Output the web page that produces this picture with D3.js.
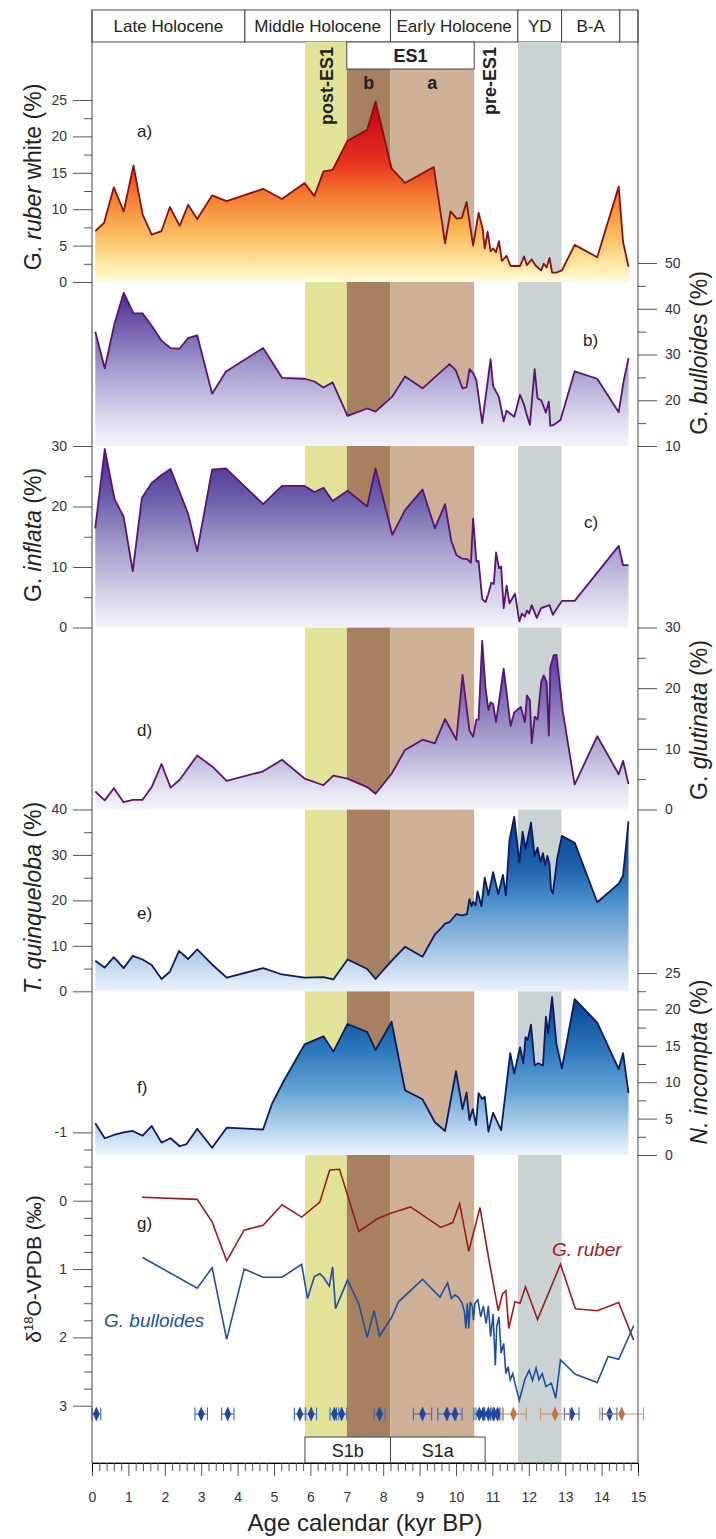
<!DOCTYPE html>
<html>
<head>
<meta charset="utf-8">
<title>ES1 foraminifera records</title>
<script src="https://cdn.jsdelivr.net/npm/d3@7/dist/d3.min.js"></script>
<style>
body { margin: 0; background: #fff; }
text { font-family: "Liberation Sans", Arial, sans-serif; fill: #222; }
.tick text { font-size: 14px; fill: #333; }
.tick line { stroke: #555; }
</style>
</head>
<body>
<svg id="mainsvg" width="716" height="1539"></svg>
<script>
// ---- data ----
// a) G. ruber white (%)
const rubWhiteAge = [0.09,0.33,0.6,0.87,1.14,1.39,1.64,1.91,2.14,2.41,2.64,2.89,3.3,3.7,4.7,5.22,5.84,6.11,6.36,6.61,7.02,7.56,7.79,8.23,8.6,9.39,9.7,9.85,10.02,10.16,10.29,10.47,10.62,10.73,10.79,10.87,10.95,11.02,11.1,11.18,11.26,11.39,11.5,11.76,11.87,11.95,12.08,12.2,12.34,12.41,12.49,12.57,12.64,12.76,12.91,13.26,13.88,14.47,14.59,14.74];
const rubWhitePct = [7.0,8.1,13.0,9.7,16.0,9.3,6.5,7.0,10.3,7.7,10.6,8.65,11.9,11.1,12.8,11.4,13.6,11.8,15.2,15.4,19.4,20.9,24.8,15.6,13.6,15.8,5.3,9.7,8.7,8.8,11.0,5.0,9.5,7.4,4.6,6.9,4.2,4.6,4.1,5.6,2.9,3.6,2.2,2.2,3.5,2.3,3.1,2.2,1.6,2.5,2.0,3.3,1.3,1.3,1.6,5.1,3.4,13.1,5.5,2.1];
// b) G. bulloides (%)
const bullAge = [0.09,0.35,0.62,0.87,1.14,1.39,1.64,1.91,2.16,2.41,2.64,2.89,3.3,3.68,4.7,5.22,5.84,6.11,6.36,6.61,7.02,7.56,7.79,8.25,8.6,9.08,9.82,9.99,10.18,10.29,10.37,10.47,10.56,10.72,10.95,11.02,11.18,11.31,11.39,11.6,11.76,11.87,11.93,12.03,12.16,12.24,12.34,12.47,12.55,12.59,12.68,12.87,13.26,13.88,14.47,14.61,14.74];
const bullPct = [35.0,27.0,36.8,43.5,39.0,39.0,36.3,33.0,31.4,31.3,33.6,34.2,21.4,26.3,31.4,24.9,24.7,24.1,22.8,23.9,16.6,18.2,17.5,20.8,25.2,22.6,27.9,26.6,22.6,22.8,26.8,25.9,24.4,15.0,29.0,23.1,20.7,15.4,17.7,16.4,21.2,19.0,17.2,14.6,26.8,20.4,20.0,17.3,19.7,14.4,14.6,15.7,26.3,24.7,17.4,24.4,29.2];
// c) G. inflata (%)
const inflAge = [0.09,0.35,0.62,0.87,1.12,1.37,1.64,1.91,2.16,2.64,2.89,3.3,3.68,4.7,5.22,5.84,6.11,6.36,6.61,7.02,7.56,7.79,8.25,8.6,9.08,9.42,9.7,9.87,10.01,10.16,10.31,10.41,10.47,10.56,10.62,10.72,10.81,10.88,10.97,11.04,11.1,11.18,11.24,11.31,11.39,11.47,11.62,11.74,11.81,11.89,11.95,12.01,12.08,12.22,12.34,12.47,12.57,12.66,12.91,13.26,14.47,14.59,14.74];
const inflPct = [16.4,29.5,21.2,18.3,9.3,21.4,23.9,25.2,26.2,18.8,12.6,26.1,26.3,20.4,23.4,23.4,22.4,23.1,20.9,22.6,20.0,26.3,15.3,19.4,22.8,16.4,20.4,14.3,12.0,11.4,11.3,10.7,18.0,10.9,11.0,4.7,4.2,5.4,7.4,7.2,12.4,9.8,10.1,3.2,6.9,4.0,5.6,1.0,2.3,1.8,2.8,2.3,3.7,1.6,3.2,3.5,3.7,2.1,4.4,4.4,13.5,10.3,10.3];
// d) G. glutinata (%)
const glutAge = [0.09,0.35,0.6,0.87,1.12,1.39,1.64,1.91,2.16,2.41,2.89,3.3,3.7,4.7,5.22,5.84,6.36,6.63,7.02,7.56,7.79,8.23,8.6,9.08,9.42,9.7,10.01,10.18,10.37,10.47,10.56,10.62,10.72,10.81,10.89,10.95,11.02,11.1,11.31,11.5,11.6,11.78,11.89,11.95,12.03,12.08,12.16,12.24,12.34,12.41,12.49,12.55,12.59,12.68,12.76,12.93,13.26,13.88,14.47,14.59,14.74];
const glutPct = [3.0,1.5,3.5,1.2,1.6,1.6,3.7,7.5,3.6,4.9,8.9,7.1,4.7,6.3,8.2,5.1,4.0,5.6,5.1,3.7,2.6,5.9,9.8,11.5,10.9,14.9,11.5,22.2,13.0,12.0,14.8,14.8,27.8,20.1,16.4,17.7,17.4,14.4,23.2,13.8,16.0,16.9,14.4,18.8,18.0,10.9,15.3,14.8,21.0,22.1,21.0,12.2,23.4,25.4,25.5,16.3,4.1,12.1,5.8,8.0,4.2];
// e) T. quinqueloba (%)
const quinAge = [0.09,0.35,0.6,0.87,1.12,1.39,1.64,1.91,2.14,2.39,2.64,2.89,3.3,3.7,4.7,5.22,5.84,6.36,6.63,7.02,7.56,7.79,8.23,8.6,9.08,9.42,9.58,9.7,9.82,10.01,10.16,10.3,10.37,10.43,10.47,10.54,10.59,10.7,10.79,10.89,11.02,11.16,11.29,11.37,11.47,11.6,11.74,11.83,11.91,12.06,12.16,12.24,12.32,12.39,12.45,12.51,12.57,12.61,12.66,12.78,12.91,13.26,13.88,14.47,14.59,14.74];
const quinPct = [6.7,5.2,7.5,5.1,7.8,7.0,5.8,2.7,4.3,8.9,7.1,9.2,5.9,3.0,5.1,3.7,3.0,3.1,2.6,7.0,4.9,2.7,6.7,9.8,7.6,12.5,13.8,14.9,15.2,17.0,16.7,17.0,20.3,18.7,19.7,18.9,22.0,18.7,25.0,21.2,26.2,21.4,25.6,21.1,33.3,38.4,28.4,35.1,31.4,37.1,29.8,31.6,28.5,30.4,27.7,29.8,28.0,22.3,21.5,29.2,34.2,32.7,19.6,23.7,25.5,37.4];
// f) N. incompta (%)
const incAge = [0.09,0.35,0.6,0.87,1.12,1.39,1.64,1.91,2.16,2.41,2.6,2.89,3.3,3.7,4.7,4.95,5.26,5.84,6.36,6.63,7.02,7.56,7.79,8.23,8.6,9.08,9.42,9.7,10.0,10.18,10.29,10.37,10.46,10.55,10.62,10.72,10.79,10.89,11.02,11.24,11.49,11.6,11.76,11.85,11.91,11.97,12.06,12.16,12.26,12.39,12.47,12.53,12.64,12.76,12.91,13.26,13.88,14.47,14.59,14.74];
const incPct = [4.35,2.3,2.75,3.1,3.3,2.65,4.0,1.7,2.3,1.2,1.5,3.6,1.0,3.75,3.5,7.1,10.1,15.2,16.3,14.2,18.0,16.9,14.4,18.3,8.9,7.65,4.5,3.3,11.5,6.3,8.6,4.8,6.3,4.1,8.5,7.7,8.0,3.2,5.8,3.4,14.0,11.2,14.8,12.6,16.2,15.8,17.9,12.3,12.6,12.3,19.0,16.7,21.7,15.2,11.9,21.4,18.2,11.8,14.0,8.5];
// g) d18O G. ruber and G. bulloides (permil VPDB)
const d18RubAge = [1.37,2.89,3.3,3.7,4.18,4.7,5.22,5.76,6.26,6.53,6.8,7.33,7.85,8.23,8.75,9.58,9.91,10.1,10.35,10.66,10.89,11.16,11.28,11.37,11.45,11.62,11.76,11.91,12.24,12.87,13.28,13.88,14.47,14.88];
const d18Rub = [-0.05,-0.02,0.31,0.88,0.43,0.36,0.06,0.24,0.02,-0.45,-0.46,0.45,0.26,0.18,0.09,0.39,0.32,0.04,0.74,0.10,0.82,1.61,1.36,1.32,1.87,1.48,1.50,1.26,1.74,0.93,1.58,1.61,1.49,2.04];
const d18BullAge = [1.39,2.89,3.3,3.7,4.18,4.7,5.22,5.76,5.92,6.11,6.26,6.36,6.52,6.61,6.69,7.02,7.33,7.56,7.75,7.9,8.23,8.42,9.08,9.56,9.77,9.87,9.97,10.06,10.16,10.23,10.27,10.31,10.35,10.39,10.45,10.48,10.52,10.6,10.68,10.75,10.83,10.89,10.95,11.02,11.08,11.12,11.18,11.24,11.31,11.37,11.43,11.49,11.56,11.62,11.74,11.89,12.01,12.1,12.2,12.28,12.37,12.47,12.62,12.74,12.87,13.28,13.88,14.18,14.47,14.88];
const d18Bull = [0.83,1.28,0.98,2.03,1.0,1.12,1.12,0.93,1.43,1.11,1.07,1.12,1.25,0.97,1.58,1.16,1.51,2.0,1.61,1.98,1.71,1.48,1.15,1.41,1.20,1.43,1.38,1.41,1.49,1.62,1.87,1.50,1.87,1.48,1.55,1.75,1.50,1.45,1.70,1.54,1.80,1.54,1.99,1.66,2.41,1.84,1.70,2.23,2.09,2.53,2.43,2.62,2.53,2.67,2.92,2.62,2.48,2.63,2.45,2.62,2.53,2.72,2.67,2.89,2.33,2.54,2.66,2.28,2.32,1.83];
// radiocarbon / tephra dates
const blueDateAge = [0.12,3.0,3.73,5.71,6.02,6.66,6.86,7.9,9.08,9.75,9.97,10.64,10.75,10.89,11.04,11.14,13.18,14.22];
const blueDateErr = [0.12,0.17,0.17,0.15,0.15,0.12,0.14,0.15,0.25,0.25,0.2,0.15,0.2,0.15,0.15,0.15,0.2,0.2];
const orangeDateAge = [11.58,12.72,14.55];
const orangeDateErr = [0.35,0.4,0.6];
// periods
const periodName = ["Late Holocene","Middle Holocene","Early Holocene","YD","B-A",""];
const periodStart = [0,4.2,8.2,11.7,12.9,14.5];
const periodEnd = [4.2,8.2,11.7,12.9,14.5,15];
// shaded intervals: post-ES1, ES1b, ES1a, YD
const bandStart = [5.85,7.0,8.2,11.7];
const bandEnd = [7.0,8.2,10.5,12.9];
const bandColor = ["#e2e398","#a7805f","#ceb097","#cad2d4"];
// sapropel sub-units
const sapName = ["S1b","S1a"];
const sapStart = [5.85,8.2];
const sapEnd = [8.2,10.8];

// ---- layout ----
const svg = d3.select("#mainsvg");
const xLeft = 92, xRight = 638;
const xScale = d3.scaleLinear().domain([0, 15]).range([xLeft, xRight]);
const frameTop = 10, headTop = 42, axisY = 1463, sapTop = 1437;

const panels = [
  {age: rubWhiteAge, val: rubWhitePct, domain: [0, 25], range: [282, 100], span: [42, 282], side: "left",
   major: [0,5,10,15,20,25], minorStep: 2.5, stroke: "#8a1010",
   grad: [[0,"#c0001a"],[0.35,"#e8331f"],[0.52,"#f37a2e"],[0.74,"#fbbd5f"],[0.92,"#feeaaa"],[1,"#fffbdc"]],
   title: [["G. ",false],["ruber",true],[" white (%)",false]], titleY: 177, label: "a)", lx: 137, ly: 137},
  {age: bullAge, val: bullPct, domain: [10, 50], range: [446, 263], span: [282, 446], side: "right",
   major: [10,20,30,40,50], minorStep: 5, stroke: "#5a1470",
   grad: [[0,"#3f2288"],[0.15,"#4a2a90"],[0.6,"#a8a1d0"],[0.85,"#dcd8ec"],[1,"#f5f4fa"]],
   title: [["G. ",false],["bulloides",true],[" (%)",false]], titleY: 353, label: "b)", lx: 583, ly: 346},
  {age: inflAge, val: inflPct, domain: [0, 30], range: [627.5, 446], span: [446, 627.5], side: "left",
   major: [0,10,20,30], minorStep: 5, stroke: "#5a1470",
   grad: [[0,"#44248c"],[0.3,"#6f62ad"],[0.52,"#9c94c7"],[0.8,"#d3cfe7"],[1,"#f3f2f9"]],
   title: [["G. ",false],["inflata",true],[" (%)",false]], titleY: 535, label: "c)", lx: 584, ly: 528},
  {age: glutAge, val: glutPct, domain: [0, 30], range: [809.5, 627.5], span: [627.5, 809.5], side: "right",
   major: [0,10,20,30], minorStep: 5, stroke: "#5a1470",
   grad: [[0,"#4a2a94"],[0.1,"#50309a"],[0.6,"#a59dcc"],[0.9,"#e6e3f2"],[1,"#f6f5fa"]],
   title: [["G. ",false],["glutinata",true],[" (%)",false]], titleY: 720, label: "d)", lx: 137, ly: 736},
  {age: quinAge, val: quinPct, domain: [0, 40], range: [991.3, 809.5], span: [809.5, 991.3], side: "left",
   major: [0,10,20,30,40], minorStep: 5, stroke: "#0e1a5e",
   grad: [[0,"#08378a"],[0.33,"#1f64ad"],[0.5,"#4a8fca"],[0.77,"#a6c6e5"],[1,"#edf3fb"]],
   title: [["T. quinqueloba",true],[" (%)",false]], titleY: 898, label: "e)", lx: 137, ly: 919},
  {age: incAge, val: incPct, domain: [0, 25], range: [1155, 973], span: [991.3, 1155], side: "right",
   major: [0,5,10,15,20,25], minorStep: 2.5, stroke: "#0e1a5e",
   grad: [[0,"#08398a"],[0.13,"#0a3f8e"],[0.42,"#2c78bc"],[0.64,"#62a1d4"],[0.86,"#b8d4ed"],[1,"#eef4fb"]],
   title: [["N. incompta",true],[" (%)",false]], titleY: 1062, label: "f)", lx: 137, ly: 1093}
];

const defs = svg.append("defs");

// header with climate periods
const head = svg.append("g").attr("id", "header");
head.selectAll("rect").data(periodName).enter().append("rect")
  .attr("x", (d, i) => xScale(periodStart[i]))
  .attr("y", frameTop)
  .attr("width", (d, i) => xScale(periodEnd[i]) - xScale(periodStart[i]))
  .attr("height", headTop - frameTop)
  .attr("fill", "#fff").attr("stroke", "#444").attr("stroke-width", 1);
head.selectAll("text").data(periodName).enter().append("text")
  .attr("x", (d, i) => (xScale(periodStart[i]) + xScale(periodEnd[i])) / 2)
  .attr("y", 32)
  .attr("text-anchor", "middle")
  .attr("font-size", "17px")
  .text(d => d);

// shaded bands for every panel
const bandG = svg.append("g").attr("id", "bands");
panels.forEach((p, k) => {
  bandG.append("g").selectAll("rect").data(bandStart).enter().append("rect")
    .attr("x", (d, i) => xScale(d))
    .attr("width", (d, i) => xScale(bandEnd[i]) - xScale(d))
    .attr("y", (d, i) => (k === 0 && (i === 1 || i === 2)) ? 69 : p.span[0])
    .attr("height", (d, i) => p.span[1] - ((k === 0 && (i === 1 || i === 2)) ? 69 : p.span[0]))
    .attr("fill", (d, i) => bandColor[i]);
});
// bands in the isotope panel
bandG.append("g").selectAll("rect").data(bandStart).enter().append("rect")
  .attr("x", d => xScale(d))
  .attr("width", (d, i) => xScale(bandEnd[i]) - xScale(d))
  .attr("y", 1155)
  .attr("height", (d, i) => (i === 3 ? axisY : sapTop) - 1155)
  .attr("fill", (d, i) => bandColor[i]);

// ES1 box and band labels
svg.append("rect").attr("x", xScale(7.0)).attr("y", headTop)
  .attr("width", xScale(10.5) - xScale(7.0)).attr("height", 27)
  .attr("fill", "#fff").attr("stroke", "#444");
svg.append("text").attr("x", (xScale(7.0) + xScale(10.5)) / 2).attr("y", 62)
  .attr("text-anchor", "middle").attr("font-size", "18px").attr("font-weight", "bold").text("ES1");
svg.append("text").attr("x", (xScale(7.0) + xScale(8.2)) / 2).attr("y", 89)
  .attr("text-anchor", "middle").attr("font-size", "18px").attr("font-weight", "bold").text("b");
svg.append("text").attr("x", (xScale(8.2) + xScale(10.5)) / 2).attr("y", 89)
  .attr("text-anchor", "middle").attr("font-size", "18px").attr("font-weight", "bold").text("a");
svg.append("text").attr("transform", `translate(${(xScale(5.85) + xScale(7.0)) / 2 + 7},47) rotate(-90)`)
  .attr("text-anchor", "end").attr("font-size", "18px").attr("font-weight", "bold").text("post-ES1");
svg.append("text").attr("transform", `translate(${xScale(10.9) + 7},47) rotate(-90)`)
  .attr("text-anchor", "end").attr("font-size", "18px").attr("font-weight", "bold").text("pre-ES1");

// area panels
panels.forEach((p, k) => {
  const y = d3.scaleLinear().domain(p.domain).range(p.range);
  const pts = p.age.map((a, i) => [a, p.val[i]]);
  const gid = "grad" + k;
  const lg = defs.append("linearGradient").attr("id", gid)
    .attr("gradientUnits", "userSpaceOnUse")
    .attr("x1", 0).attr("x2", 0).attr("y1", p.range[1]).attr("y2", p.range[0]);
  p.grad.forEach(s => lg.append("stop").attr("offset", s[0]).attr("stop-color", s[1]));

  const g = svg.append("g").attr("class", "panel");
  g.append("path").datum(pts)
    .attr("d", d3.area().x(d => xScale(d[0])).y0(y(p.domain[0])).y1(d => y(d[1])))
    .attr("fill", `url(#${gid})`);
  g.append("path").datum(pts)
    .attr("d", d3.line().x(d => xScale(d[0])).y(d => y(d[1])))
    .attr("fill", "none").attr("stroke", p.stroke).attr("stroke-width", 1.8)
    .attr("stroke-linejoin", "round");

  // axis
  const left = p.side === "left";
  const axMaj = (left ? d3.axisLeft(y) : d3.axisRight(y)).tickValues(p.major)
    .tickSize(19).tickPadding(left ? 6 : 8).tickFormat(d => String(d));
  const minors = d3.range(p.domain[0], p.domain[1] + 0.01, p.minorStep).filter(v => p.major.indexOf(v) < 0);
  const axMin = (left ? d3.axisLeft(y) : d3.axisRight(y)).tickValues(minors).tickSize(8).tickFormat("");
  const ax = svg.append("g").attr("transform", `translate(${left ? xLeft : xRight},0)`);
  ax.call(axMaj); ax.append("g").call(axMin);
  ax.selectAll(".domain").remove();

  // title
  const tx = left ? 41 : 707;
  const t = svg.append("text").attr("transform", `translate(${tx},${p.titleY}) rotate(-90)`)
    .attr("text-anchor", "middle").attr("font-size", "23px");
  p.title.forEach(s => t.append("tspan").attr("font-style", s[1] ? "italic" : "normal").text(s[0]));

  svg.append("text").attr("x", p.lx).attr("y", p.ly).attr("font-size", "17px").text(p.label);
});

// isotope panel
const yIso = d3.scaleLinear().domain([-1, 3]).range([1132.4, 1405.7]);
const isoG = svg.append("g").attr("id", "iso");
isoG.append("path").datum(d18RubAge.map((a, i) => [a, d18Rub[i]]))
  .attr("d", d3.line().x(d => xScale(d[0])).y(d => yIso(d[1])))
  .attr("fill", "none").attr("stroke", "#9a1c1c").attr("stroke-width", 1.6);
isoG.append("path").datum(d18BullAge.map((a, i) => [a, d18Bull[i]]))
  .attr("d", d3.line().x(d => xScale(d[0])).y(d => yIso(d[1])))
  .attr("fill", "none").attr("stroke", "#1d4fa0").attr("stroke-width", 1.6);
const isoAx = svg.append("g").attr("transform", `translate(${xLeft},0)`);
isoAx.call(d3.axisLeft(yIso).tickValues([-1,0,1,2,3]).tickSize(19).tickPadding(6).tickFormat(d => String(d)));
isoAx.append("g").call(d3.axisLeft(yIso).tickValues(d3.range(-1, 3.01, 0.25).filter(v => v % 1 !== 0)).tickSize(8).tickFormat(""));
isoAx.selectAll(".domain").remove();
const isoT = svg.append("text").attr("transform", `translate(41,1269) rotate(-90)`)
  .attr("text-anchor", "middle").attr("font-size", "21px");
isoT.append("tspan").text("δ");
isoT.append("tspan").attr("font-size", "13px").attr("dy", "-8").text("18");
isoT.append("tspan").attr("dy", "8").text("O-VPDB (‰)");
svg.append("text").attr("x", 137).attr("y", 1229).attr("font-size", "17px").text("g)");
svg.append("text").attr("x", 552).attr("y", 1256).attr("font-size", "19px").attr("font-style", "italic")
  .style("fill", "#9a1c1c").text("G. ruber");
svg.append("text").attr("x", 104).attr("y", 1327).attr("font-size", "19px").attr("font-style", "italic")
  .style("fill", "#1d4fa0").text("G. bulloides");

// dates with error bars
const dateY = 1414;
function drawDates(ages, errs, barColor, fillColor) {
  const g = svg.append("g");
  ages.forEach((a, i) => {
    const x0 = xScale(a - errs[i]), x1 = xScale(a + errs[i]);
    g.append("line").attr("x1", x0).attr("x2", x1).attr("y1", dateY).attr("y2", dateY)
      .attr("stroke", barColor).attr("stroke-width", 1.2);
    [x0, x1].forEach(xx => g.append("line").attr("x1", xx).attr("x2", xx)
      .attr("y1", dateY - 6.5).attr("y2", dateY + 6.5).attr("stroke", barColor).attr("stroke-width", 1.2));
  });
  g.selectAll("path").data(ages).enter().append("path")
    .attr("d", d3.symbol().type(d3.symbolDiamond).size(48))
    .attr("transform", d => `translate(${xScale(d)},${dateY}) scale(0.9,1.15)`)
    .attr("fill", fillColor);
}
drawDates(blueDateAge, blueDateErr, "#4a6fb8", "#1d47a0");
drawDates(orangeDateAge, orangeDateErr, "#d49674", "#c4733f");

// sapropel boxes
svg.append("g").selectAll("rect").data(sapName).enter().append("rect")
  .attr("x", (d, i) => xScale(sapStart[i])).attr("y", sapTop)
  .attr("width", (d, i) => xScale(sapEnd[i]) - xScale(sapStart[i])).attr("height", axisY - sapTop)
  .attr("fill", "#fff").attr("stroke", "#444");
svg.append("g").selectAll("text").data(sapName).enter().append("text")
  .attr("x", (d, i) => (xScale(sapStart[i]) + xScale(sapEnd[i])) / 2).attr("y", 1457)
  .attr("text-anchor", "middle").attr("font-size", "18px").text(d => d);

// frame
svg.append("line").attr("x1", xLeft).attr("x2", xLeft).attr("y1", frameTop).attr("y2", axisY).attr("stroke", "#444");
svg.append("line").attr("x1", xRight).attr("x2", xRight).attr("y1", frameTop).attr("y2", axisY).attr("stroke", "#444");

// bottom age axis
const xAx = svg.append("g").attr("transform", `translate(0,${axisY})`);
xAx.call(d3.axisBottom(xScale).tickValues(d3.range(0, 16)).tickSize(13).tickPadding(16).tickFormat(d => String(d)));
xAx.append("g").call(d3.axisBottom(xScale).tickValues(d3.range(0, 15.01, 0.2).filter(v => Math.abs(v - Math.round(v)) > 0.01)).tickSize(8).tickFormat(""));
xAx.select(".domain").attr("stroke", "#444").attr("d", `M${xLeft},0H${xRight}`);
svg.append("text").attr("x", (xLeft + xRight) / 2 + 0).attr("y", 1531)
  .attr("text-anchor", "middle").attr("font-size", "24px").text("Age calendar (kyr BP)");
</script>
</body>
</html>
